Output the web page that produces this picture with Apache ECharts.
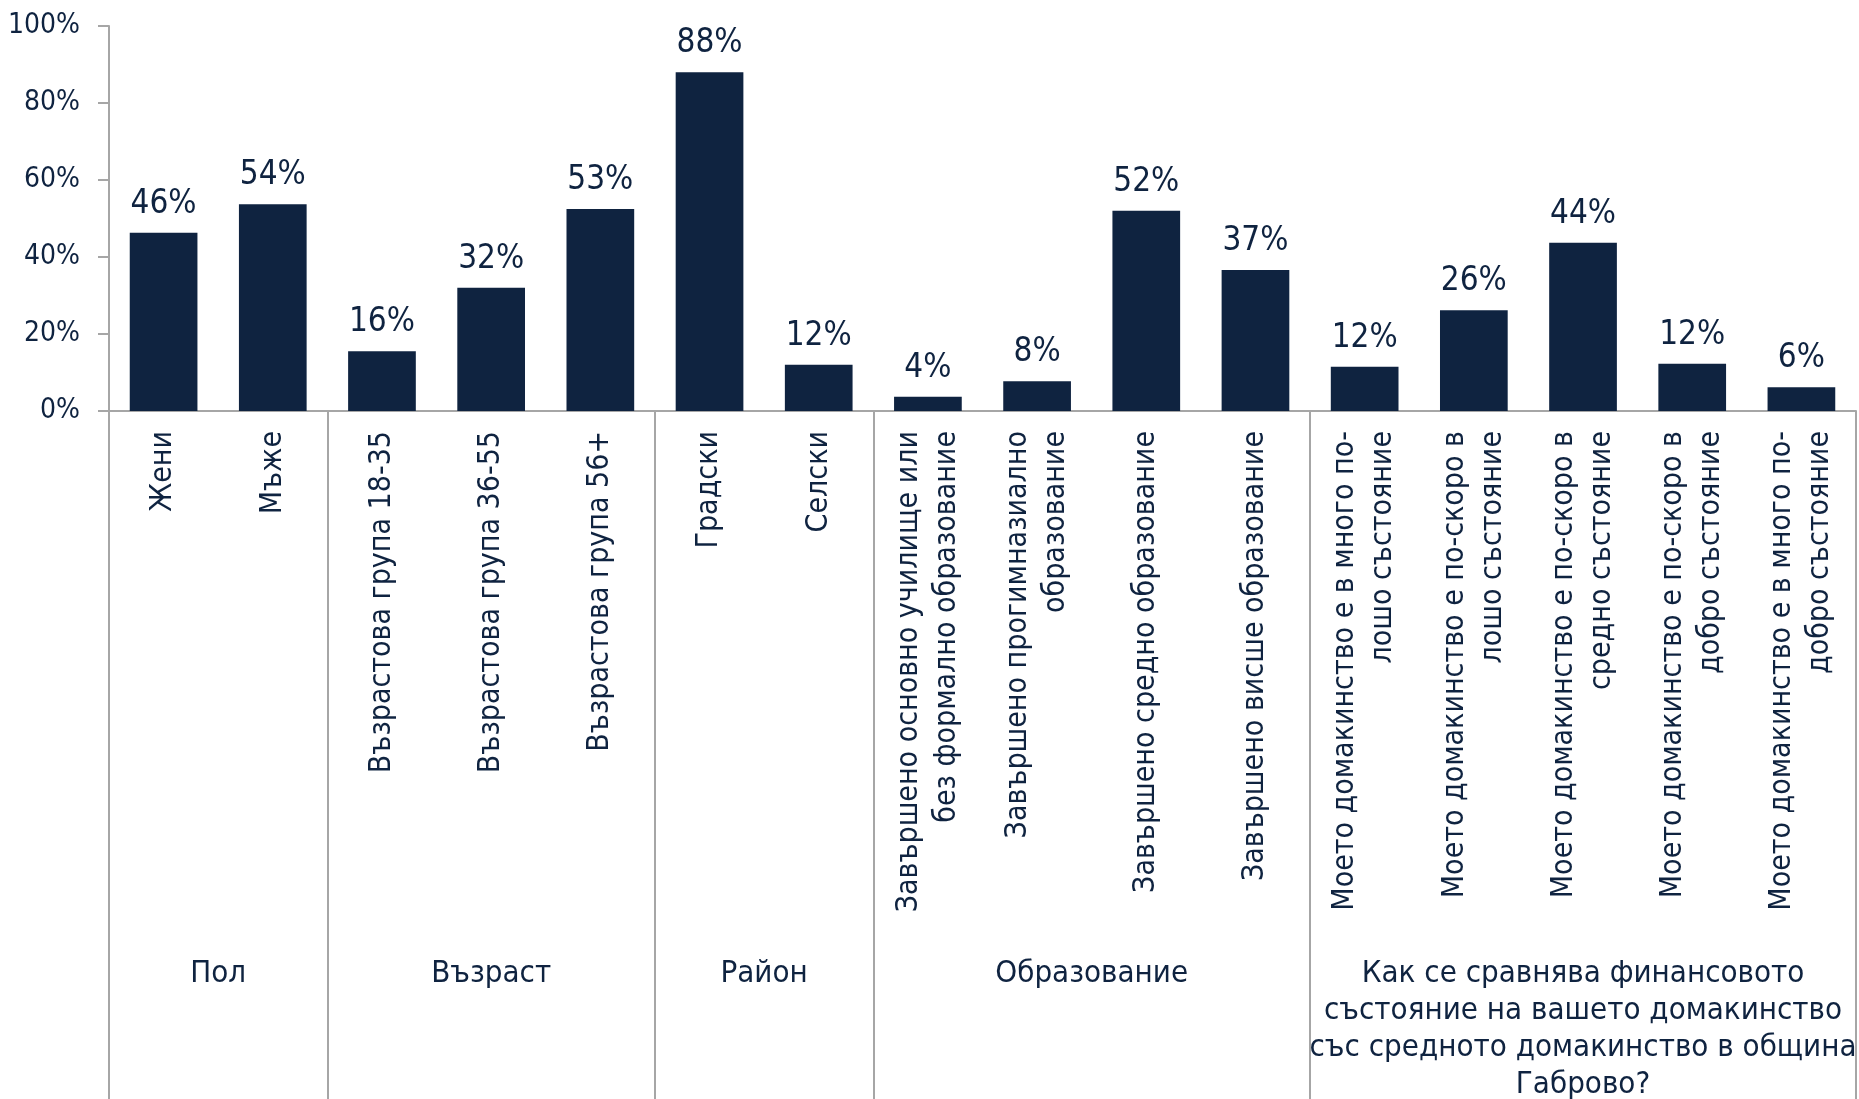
<!DOCTYPE html>
<html>
<head>
<meta charset="utf-8">
<script src="https://cdn.jsdelivr.net/npm/echarts@6/dist/echarts.min.js"></script>
<style>
  html, body { margin: 0; padding: 0; background: #fff; }
  #chart { width: 1859px; height: 1099px; }
</style>
</head>
<body>
<div id="chart"></div>
<script>
// categories (bottom to top when rotated)
const categories = [
  "Жени",
  "Мъже",
  "Възрастова група 18-35",
  "Възрастова група 36-55",
  "Възрастова група 56+",
  "Градски",
  "Селски",
  "Завършено основно училище или\nбез формално образование",
  "Завършено прогимназиално\nобразование",
  "Завършено средно образование",
  "Завършено висше образование",
  "Моето домакинство е в много по-\nлошо състояние",
  "Моето домакинство е по-скоро в\nлошо състояние",
  "Моето домакинство е по-скоро в\nсредно състояние",
  "Моето домакинство е по-скоро в\nдобро състояние",
  "Моето домакинство е в много по-\nдобро състояние"
];
const values = [46.3, 53.7, 15.5, 32, 52.5, 88, 12, 3.7, 7.7, 52, 36.6, 11.5, 26.2, 43.7, 12.3, 6.2];

const groupNames = [
  "Пол",
  "Възраст",
  "Район",
  "Образование",
  "Как се сравнява финансовото\nсъстояние на вашето домакинство\nсъс средното домакинство в община\nГаброво?"
];
const groupSizes = [2, 3, 2, 4, 5];

const navy = "#0f2340";
const grey = "#a6a6a6";
const narrow = "'Liberation Sans Narrow', 'DejaVu Sans Condensed', sans-serif";
const wide = "'DejaVu Sans Condensed', 'DejaVu Sans', sans-serif";

// group start indexes and centres
const groupStarts = [];
const groupCentres = [];
let acc = 0;
groupSizes.forEach((n) => {
  groupStarts.push(acc);
  groupCentres.push(acc + n / 2);
  acc += n;
});

const chart = echarts.init(document.getElementById("chart"));

chart.setOption({
  animation: false,
  grid: {
    left: 109,
    right: 3,
    top: 26,
    bottom: 688,
    containLabel: false,
    outerBoundsMode: "none"
  },
  xAxis: [
    {
      type: "category",
      data: categories,
      axisLine: { lineStyle: { color: grey, width: 2 } },
      axisTick: {
        show: true,
        interval: (i) => groupStarts.includes(i),
        length: 700,
        lineStyle: { color: grey, width: 2 }
      },
      axisLabel: {
        interval: 0,
        rotate: 90,
        margin: 20,
        color: navy,
        fontFamily: wide,
        fontSize: 30,
        lineHeight: 38
      }
    },
    {
      type: "value",
      position: "bottom",
      offset: 544,
      min: 0,
      max: categories.length,
      interval: 0.5,
      axisLine: { show: false },
      axisTick: { show: false },
      splitLine: { show: false },
      axisLabel: {
        margin: 0,
        color: navy,
        fontFamily: narrow,
        fontSize: 31,
        lineHeight: 37,
        formatter: (v) => {
          const k = groupCentres.findIndex((c) => Math.abs(c - v) < 1e-6);
          return k >= 0 ? groupNames[k] : "";
        }
      }
    }
  ],
  yAxis: {
    type: "value",
    min: 0,
    max: 1,
    interval: 0.2,
    axisLine: { show: true, lineStyle: { color: grey, width: 2 } },
    axisTick: { show: true, length: 11, lineStyle: { color: grey, width: 2 } },
    splitLine: { show: false },
    axisLabel: {
      margin: 29,
      color: navy,
      fontFamily: narrow,
      fontSize: 28,
      formatter: (v) => Math.round(v * 100) + "%"
    }
  },
  series: [
    {
      type: "bar",
      xAxisIndex: 0,
      barWidth: "62%",
      data: values.map((v) => v / 100),
      itemStyle: { color: navy },
      label: {
        show: true,
        position: "top",
        distance: 12,
        color: navy,
        fontFamily: narrow,
        fontSize: 33,
        formatter: (p) => Math.round(p.value * 100) + "%"
      }
    }
  ]
});
</script>
</body>
</html>
